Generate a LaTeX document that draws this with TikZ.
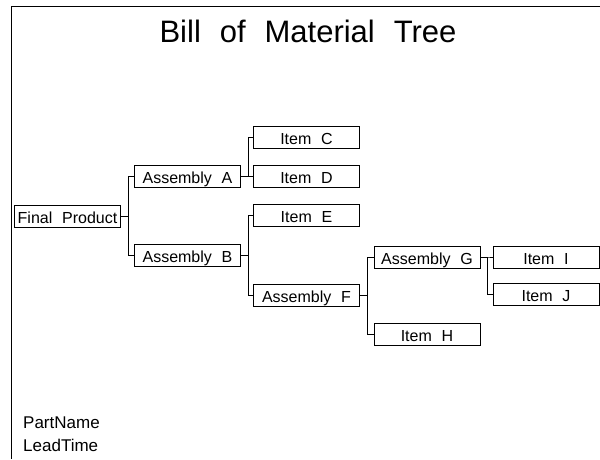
\documentclass[tikz,border=0pt]{standalone}
\usepackage{fontspec}
\setmainfont{Liberation Sans}[WordSpace=2.2]
\tikzset{
  part/.style={draw, line width=0.8pt, minimum width=106pt, minimum height=22pt,
    inner sep=0pt, text height=18pt, text depth=4pt, font=\fontsize{16}{18}\selectfont},
  link/.style={line width=0.8pt}
}
\begin{document}
\begin{tikzpicture}[x=1pt, y=-1pt]
  \useasboundingbox (0,0) rectangle (600,459);
  \draw[line width=0.9pt] (600,6.5) -- (11.5,6.5) -- (11.5,459);
  \node (title) at (308,42) [anchor=base, inner sep=0pt, font=\fontsize{31}{34}\selectfont] {Bill of Material Tree};

  \node[part] (fp)    at (67.5,216)  {Final Product};
  \node[part] (asmA)  at (187.5,176.5) {Assembly A};
  \node[part] (asmB)  at (187.5,255.5) {Assembly B};
  \node[part] (itemC) at (306.5,137)   {Item C};
  \node[part] (itemD) at (306.5,176.5) {Item D};
  \node[part] (itemE) at (306.5,215.5) {Item E};
  \node[part] (asmF)  at (306.5,295.5) {Assembly F};
  \node[part] (asmG)  at (427,257)     {Assembly G};
  \node[part] (itemH) at (427,334)     {Item H};
  \node[part] (itemI) at (546,257)     {Item I};
  \node[part] (itemJ) at (546,294.5)   {Item J};

  \foreach \p/\c in {fp/asmA, fp/asmB, asmA/itemC, asmA/itemD, asmB/itemE, asmB/asmF,
                     asmF/asmG, asmF/itemH, asmG/itemI, asmG/itemJ}
    \draw[link] (\p.east) -- ++(7,0) |- (\c.west);

  \node (pname) at (23,428) [anchor=base west, inner sep=0pt, font=\fontsize{17}{19}\selectfont] {PartName};
  \node (ltime) at (23,451) [anchor=base west, inner sep=0pt, font=\fontsize{17}{19}\selectfont] {LeadTime};
\end{tikzpicture}
\end{document}
